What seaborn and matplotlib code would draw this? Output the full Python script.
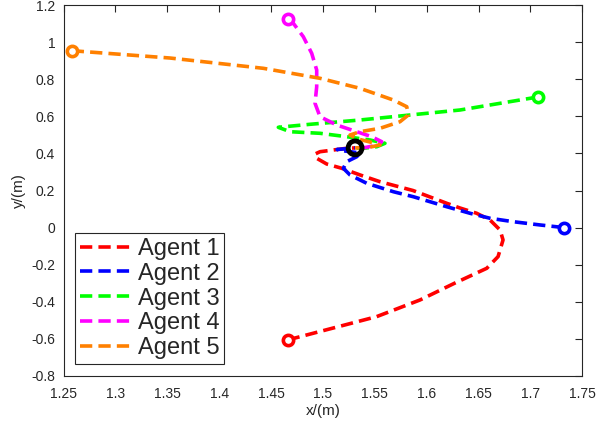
import numpy as np
import pandas as pd
import matplotlib
matplotlib.use('Agg')
import matplotlib.pyplot as plt
import seaborn as sns

# trajectories (x/(m), y/(m))
agent1_x = [1.466, 1.5518, 1.5936, 1.6273, 1.6579, 1.6688, 1.6736, 1.6707, 1.661, 1.6482,
            1.6321, 1.6193, 1.5868, 1.555, 1.5358, 1.5181, 1.5037, 1.494, 1.4924, 1.4972,
            1.51, 1.523, 1.531]
agent1_y = [-0.607, -0.481, -0.391, -0.2995, -0.22, -0.157, -0.067, -0.013, 0.041, 0.077,
            0.1055, 0.131, 0.2, 0.2475, 0.284, 0.32, 0.343, 0.374, 0.397, 0.4095,
            0.4187, 0.428, 0.43]

agent2_x = [1.732, 1.7092, 1.6835, 1.6611, 1.6418, 1.6193, 1.5871, 1.5679, 1.5422, 1.5261,
            1.5197, 1.5229, 1.5326, 1.5358, 1.5213, 1.5136, 1.531]
agent2_y = [0.0, 0.014, 0.0315, 0.05, 0.077, 0.1125, 0.1665, 0.1935, 0.239, 0.284,
            0.32, 0.3555, 0.3825, 0.4025, 0.4133, 0.4214, 0.43]

agent3_x = [1.7073, 1.6321, 1.5839, 1.5357, 1.4876, 1.457, 1.4683, 1.4972, 1.5229, 1.5454,
            1.5598, 1.5519, 1.5389, 1.531]
agent3_y = [0.705, 0.6347, 0.6077, 0.5807, 0.5575, 0.5413, 0.5175, 0.5089, 0.4905, 0.4727,
            0.4549, 0.4365, 0.428, 0.43]

agent4_x = [1.4667, 1.4715, 1.4811, 1.4892, 1.494, 1.494, 1.4924, 1.4972, 1.5133, 1.5326,
            1.547, 1.5567, 1.5531, 1.5406, 1.531]
agent4_y = [1.126, 1.1028, 1.0305, 0.9408, 0.8506, 0.7605, 0.6708, 0.5985, 0.5537, 0.5175,
            0.4905, 0.4635, 0.4457, 0.432, 0.43]

agent5_x = [1.2579, 1.3526, 1.4426, 1.4972, 1.5357, 1.5678, 1.5808, 1.5823, 1.5743, 1.555,
            1.5357, 1.5261, 1.5338, 1.5473, 1.555, 1.5434, 1.531]
agent5_y = [0.955, 0.9154, 0.8598, 0.8058, 0.7518, 0.6887, 0.6525, 0.6077, 0.5715, 0.5358,
            0.5175, 0.4997, 0.478, 0.4592, 0.4457, 0.432, 0.43]

names = ['Agent 1', 'Agent 2', 'Agent 3', 'Agent 4', 'Agent 5']
colors = ['#ff0000', '#0000ff', '#00ff00', '#ff00ff', '#ff8000']
xs = [agent1_x, agent2_x, agent3_x, agent4_x, agent5_x]
ys = [agent1_y, agent2_y, agent3_y, agent4_y, agent5_y]

final_x = [1.531]
final_y = [0.43]

xtick_labels = ['1.25', '1.3', '1.35', '1.4', '1.45', '1.5', '1.55', '1.6', '1.65', '1.7', '1.75']
ytick_labels = ['-0.8', '-0.6', '-0.4', '-0.2', '0', '0.2', '0.4', '0.6', '0.8', '1', '1.2']

sns.set_style('white')
plt.rcParams['font.family'] = ['Liberation Sans', 'DejaVu Sans']

fig = plt.figure(figsize=(5.97, 4.25), dpi=100)
ax = fig.add_axes([0.1064, 0.116, 0.869, 0.8715])

for name, c, x, y in zip(names, colors, xs, ys):
    df = pd.DataFrame({'x': x, 'y': y})
    sns.lineplot(data=df, x='x', y='y', sort=False, estimator=None, ax=ax,
                 color=c, linewidth=2.6, linestyle='--', label=name)
    ax.lines[-1].set_dashes((3.4, 1.7))
    # start point
    sns.scatterplot(x=[x[0]], y=[y[0]], ax=ax, s=55, facecolor='white',
                    edgecolor=c, linewidth=2.6, zorder=5, legend=False)

# converged point
sns.scatterplot(x=final_x, y=final_y, ax=ax, s=100, facecolor='none',
                edgecolor='black', linewidth=3.5, zorder=6, legend=False)

ax.set_xlim(1.25, 1.75)
ax.set_ylim(-0.8, 1.2)
ax.set_xticks(np.linspace(1.25, 1.75, 11))
ax.set_xticklabels(xtick_labels)
ax.set_yticks(np.linspace(-0.8, 1.2, 11))
ax.set_yticklabels(ytick_labels)
ax.tick_params(direction='in', length=5, width=0.8, top=True, right=True,
               labelsize=10, colors='#262626')
ax.tick_params(axis='x', pad=8)
ax.tick_params(axis='y', pad=6)
for sp in ax.spines.values():
    sp.set_color('#262626')
    sp.set_linewidth(0.8)

ax.set_xlabel('x/(m)', fontsize=11, labelpad=2)
ax.set_ylabel('y/(m)', fontsize=11, labelpad=4)

leg = ax.legend(loc='lower left', bbox_to_anchor=(0.0, 0.0), fontsize=17,
                frameon=True, fancybox=False, framealpha=1, edgecolor='#262626',
                handlelength=2.1, handletextpad=0.35, borderpad=0.2, labelspacing=0.12,
                borderaxespad=0.5)
leg.get_frame().set_linewidth(0.8)

fig.savefig('out.png', dpi=100)
